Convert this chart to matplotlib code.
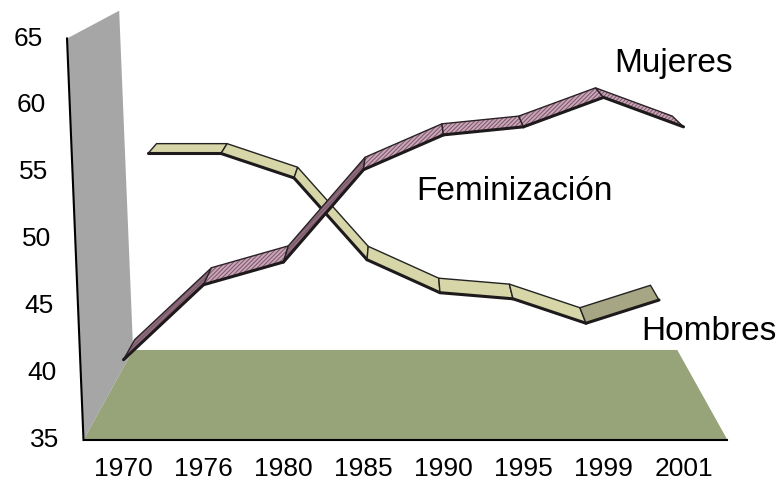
import matplotlib
matplotlib.use("Agg")
import matplotlib.pyplot as plt
from matplotlib.patches import Polygon

# Datos
years = ['1970', '1976', '1980', '1985', '1990', '1995', '1999', '2001']
mujeres = [41.0, 46.6, 48.3, 55.2, 57.8, 58.4, 60.6, 58.4]
hombres = [54.3, 54.3, 52.3, 45.6, 42.9, 42.4, 40.4, 42.3]
yticks = [35, 40, 45, 50, 55, 60, 65]

# pseudo 3D: perspectiva sencilla hacia un punto de fuga
XC = 3.5      # centro de las categorias
VY = 78.4     # altura del punto de fuga (en unidades de datos)
BACK = 0.845  # escala del plano del fondo
LEAN = -0.206 / 30  # inclinacion de la pared

def proj(x, v, s):
    return XC + (x - XC) * s, VY + (v - VY) * s

plt.rcParams['font.family'] = ['Liberation Sans', 'DejaVu Sans']
fig = plt.figure(figsize=(7.8, 4.84), dpi=100)
ax = fig.add_axes([83.5 / 780, 44 / 484, 640 / 780, 401.5 / 484])
ax.set_xlim(-0.5, 7.5)
ax.set_ylim(35, 65)
ax.patch.set_visible(False)
for sp in ax.spines.values():
    sp.set_visible(False)

# pared y suelo
x0, x1 = -0.5, 7.55
bx0, by0 = proj(x0, 35, BACK)
tx, ty = proj(x0, 65, BACK)
wall = [(x0, 35), (x0 + LEAN * 30, 65), (tx + LEAN * 30 * BACK, ty), (bx0, by0)]
ax.add_patch(Polygon(wall, closed=True, fc='#A6A6A6', ec='none', zorder=1, clip_on=False))
floor = [(x0, 35), (x1, 35), proj(x1, 35, BACK), (bx0, by0)]
ax.add_patch(Polygon(floor, closed=True, fc='#97A378', ec='none', zorder=2, clip_on=False))
ax.plot([x0, x1], [35, 35], color='black', lw=1.5, zorder=6, clip_on=False)
ax.plot([x0, x0 + LEAN * 30], [35, 65], color='black', lw=1.5, zorder=6, clip_on=False)


def ribbon(values, s1, s2, z, colors, hatch=None, hatch_color=None, steep=None):
    for k in range(len(values) - 1):
        va, vb = values[k], values[k + 1]
        pts = [proj(k, va, s1), proj(k + 1, vb, s1), proj(k + 1, vb, s2), proj(k, va, s2)]
        slope = vb - va
        if steep is None:
            fc = colors[1] if slope > 0 else colors[0]
        else:
            fc = colors[1] if slope > steep else colors[0]
        if hatch:
            ax.add_patch(Polygon(pts, closed=True, fc=fc, ec=hatch_color, lw=0,
                                 hatch=hatch, zorder=z, clip_on=False))
            ax.add_patch(Polygon(pts, closed=True, fc='none', ec='#2A2226', lw=1.0,
                                 zorder=z + 0.01, clip_on=False))
        else:
            ax.add_patch(Polygon(pts, closed=True, fc=fc, ec='#222222', lw=1.0,
                                 zorder=z, clip_on=False))
        # canto frontal
        (ax_, ay_), (bx_, by_) = pts[0], pts[1]
        ax.plot([ax_, bx_], [ay_, by_], color='#1E1A1C', lw=2.2, zorder=z + 0.02,
                solid_capstyle='round', clip_on=False)
        z += 0.03


plt.rcParams['hatch.linewidth'] = 0.7
ribbon(hombres, 0.9125, 0.882, 3, ['#D6D6A8', '#A6A684'])
ribbon(mujeres, 1.0, 0.96, 4, ['#C9A6B8', '#8E6E7E'], hatch='////////',
       hatch_color='#7A5468', steep=4)

# etiquetas
ax.set_xticks(range(len(years)), years)
ax.tick_params(axis='x', length=0, pad=12, labelsize=19)
ax.set_yticks([])
for v in yticks:
    ex = x0 + LEAN * (v - 35)
    ax.text(ex - 0.3, v, str(v), ha='right', va='center', fontsize=19, clip_on=False)

ax.text(6.87, 62.5, 'Mujeres', ha='center', va='baseline', fontsize=24)
ax.text(4.89, 52.94, 'Feminización', ha='center', va='baseline', fontsize=24)
ax.text(7.32, 42.47, 'Hombres', ha='center', va='baseline', fontsize=24, clip_on=False)

fig.savefig('out.png', dpi=100)
